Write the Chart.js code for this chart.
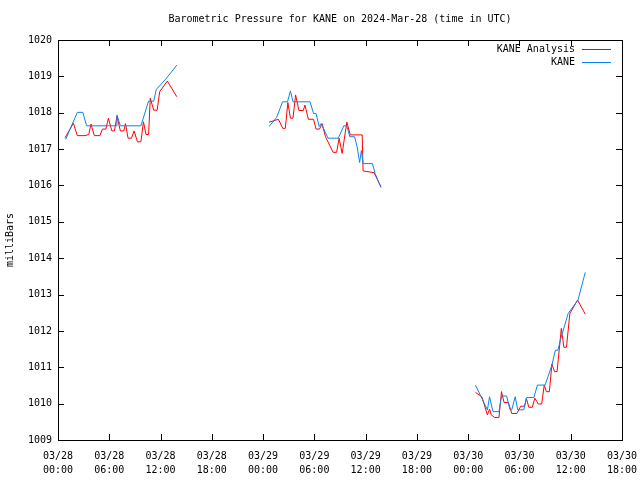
<!DOCTYPE html>
<html>
<head>
<meta charset="utf-8">
<script src="https://cdn.jsdelivr.net/npm/chart.js@4"></script>
<style>
  body { margin: 0; background: #fff; }
  #wrap { width: 640px; height: 480px; }
</style>
</head>
<body>
<div id="wrap"><canvas id="chartPressure" width="640" height="480"></canvas></div>
<script>
// hours since 03/28 00:00 UTC, null = gap
var analysisHours = [0.82, 1.8, 2.26, 3.16, 3.6, 3.86, 4.25, 4.9, 5.2, 5.6, 5.9, 6.3, 6.6, 6.9, 7.3, 7.7, 7.9, 8.2, 8.6, 8.9, 9.3, 9.7, 10.0, 10.3, 10.6, 10.8, 11.2, 11.6, 11.9, 12.8, 13.9,
    19,
    24.7, 25.8, 26.3, 26.6, 26.9, 27.2, 27.5, 27.8, 28.2, 28.7, 28.9, 29.3, 29.9, 30.2, 30.6, 30.9, 31.3, 32.2, 32.6, 32.9, 33.25, 33.8, 34.2, 35.6, 35.7, 37.0, 37.5, 37.8,
    43,
    48.85, 49.6, 50.25, 50.5, 50.7, 51.1, 51.6, 51.9, 52.2, 52.7, 53.1, 53.7, 54.15, 54.6, 54.8, 55.1, 55.5, 55.8, 56.2, 56.6, 56.9, 57.15, 57.5, 57.8, 58.1, 58.4, 58.9, 59.2, 59.5, 59.9, 60.8, 61.7];
var analysisValues = [1017.31, 1017.71, 1017.37, 1017.37, 1017.4, 1017.69, 1017.37, 1017.37, 1017.55, 1017.55, 1017.85, 1017.5, 1017.5, 1017.9, 1017.5, 1017.5, 1017.7, 1017.3, 1017.3, 1017.5, 1017.2, 1017.2, 1017.75, 1017.4, 1017.4, 1018.4, 1018.07, 1018.07, 1018.58, 1018.87, 1018.44,
    null,
    1017.74, 1017.82, 1017.57, 1017.57, 1018.28, 1017.85, 1017.85, 1018.49, 1018.06, 1018.06, 1018.21, 1017.82, 1017.82, 1017.55, 1017.55, 1017.7, 1017.34, 1016.91, 1016.91, 1017.3, 1016.88, 1017.74, 1017.39, 1017.39, 1016.4, 1016.35, 1016.1, 1015.95,
    null,
    1010.31, 1010.19, 1009.69, 1009.85, 1009.69, 1009.62, 1009.62, 1010.33, 1010.03, 1010.03, 1009.73, 1009.73, 1009.93, 1009.93, 1010.15, 1009.9, 1009.9, 1010.15, 1009.99, 1009.99, 1010.51, 1010.33, 1010.33, 1011.09, 1010.88, 1010.88, 1012.07, 1011.55, 1011.55, 1012.48, 1012.85, 1012.46];

var obsHours = [0.9, 2.26, 2.9, 3.35, 6.8, 6.9, 7.3, 9.7, 10.6, 11.2, 11.5, 12.7, 13.9,
    19,
    24.7, 25.58, 26.28, 26.86, 27.2, 27.5, 29.5, 29.9, 30.2, 30.56, 30.8, 31.6, 32.8, 33.45, 33.8, 34.15, 34.7, 35.0, 35.3, 35.5, 35.7, 36.8, 37.1, 37.8,
    43,
    48.85, 49.9, 50.25, 50.5, 50.9, 51.6, 51.9, 52.5, 52.9, 53.1, 53.5, 53.8, 54.5, 54.85, 55.7, 56.1, 57.0, 57.8, 58.2, 58.5, 58.9, 59.7, 60.85, 61.7];
var obsValues = [1017.27, 1018.01, 1018.01, 1017.64, 1017.64, 1017.94, 1017.64, 1017.64, 1018.32, 1018.32, 1018.64, 1018.95, 1019.31,
    null,
    1017.62, 1017.87, 1018.3, 1018.3, 1018.6, 1018.3, 1018.3, 1017.98, 1017.98, 1017.62, 1017.7, 1017.3, 1017.3, 1017.64, 1017.64, 1017.34, 1017.34, 1017.07, 1016.63, 1016.96, 1016.6, 1016.6, 1016.33, 1015.95,
    null,
    1010.51, 1010.0, 1009.83, 1010.19, 1009.78, 1009.78, 1010.21, 1010.21, 1009.83, 1009.83, 1010.19, 1009.83, 1009.83, 1010.17, 1010.17, 1010.51, 1010.51, 1011.06, 1011.47, 1011.47, 1011.84, 1012.48, 1012.85, 1013.61];

var xTickLabels = [['03/28', '00:00'], ['03/28', '06:00'], ['03/28', '12:00'], ['03/28', '18:00'],
    ['03/29', '00:00'], ['03/29', '06:00'], ['03/29', '12:00'], ['03/29', '18:00'],
    ['03/30', '00:00'], ['03/30', '06:00'], ['03/30', '12:00'], ['03/30', '18:00']];

var titleText = 'Barometric Pressure for KANE on 2024-Mar-28 (time in UTC)';
var yTitle = 'milliBars';
var seriesNames = ['KANE Analysis', 'KANE'];
var seriesColors = ['#ff0000', '#0a84f0'];

var FONT = '"DejaVu Sans Mono", "Liberation Mono", monospace';

function toPoints(xs, ys) {
    return xs.map(function (x, i) { return { x: x, y: ys[i] }; });
}

// gnuplot-like frame: inward ticks, title, y title, legend
var gnuFrame = {
    id: 'gnuFrame',
    afterDraw: function (chart) {
        var ctx = chart.ctx;
        var a = chart.chartArea;
        var xs = chart.scales.x, ys = chart.scales.y;
        ctx.save();
        ctx.strokeStyle = '#000';
        ctx.lineWidth = 1;
        ctx.beginPath();
        xs.ticks.forEach(function (t) {
            var px = Math.round(xs.getPixelForValue(t.value)) + 0.5;
            ctx.moveTo(px, a.bottom); ctx.lineTo(px, a.bottom - 6);
            ctx.moveTo(px, a.top); ctx.lineTo(px, a.top + 6);
        });
        ys.ticks.forEach(function (t) {
            var py = Math.round(ys.getPixelForValue(t.value)) + 0.5;
            ctx.moveTo(a.left, py); ctx.lineTo(a.left + 6, py);
            ctx.moveTo(a.right, py); ctx.lineTo(a.right - 6, py);
        });
        ctx.stroke();
        ctx.strokeRect(Math.round(a.left) + 0.5, Math.round(a.top) + 0.5,
            Math.round(a.right - a.left), Math.round(a.bottom - a.top));

        ctx.fillStyle = '#000';
        ctx.font = '10px ' + FONT;
        ctx.textAlign = 'center';
        ctx.textBaseline = 'middle';
        ctx.fillText(titleText, 340, 19);

        ctx.save();
        ctx.translate(10, 240);
        ctx.rotate(-Math.PI / 2);
        ctx.fillText(yTitle, 0, 0);
        ctx.restore();

        // legend
        ctx.textAlign = 'right';
        seriesNames.forEach(function (name, i) {
            var y = 49 + i * 13;
            ctx.fillStyle = '#000';
            ctx.fillText(name, 575, y);
            ctx.strokeStyle = seriesColors[i];
            ctx.beginPath();
            ctx.moveTo(582, y + 0.5);
            ctx.lineTo(611, y + 0.5);
            ctx.stroke();
        });
        ctx.restore();
    }
};

var ctx = document.getElementById('chartPressure').getContext('2d');
var chartPressure = new Chart(ctx, {
    type: 'line',
    data: {
        datasets: [{
            label: seriesNames[0],
            data: toPoints(analysisHours, analysisValues),
            borderColor: seriesColors[0],
            borderWidth: 1,
            pointRadius: 0,
            tension: 0,
            spanGaps: false,
            order: 2
        }, {
            label: seriesNames[1],
            data: toPoints(obsHours, obsValues),
            borderColor: seriesColors[1],
            borderWidth: 1,
            pointRadius: 0,
            tension: 0,
            spanGaps: false,
            order: 1
        }]
    },
    options: {
        responsive: false,
        animation: false,
        events: [],
        layout: { padding: { left: 0, right: 18, top: 40, bottom: 0 } },
        plugins: {
            legend: { display: false },
            title: { display: false },
            tooltip: { enabled: false }
        },
        scales: {
            x: {
                type: 'linear',
                min: 0,
                max: 66,
                border: { display: false },
                grid: { display: false, drawTicks: false },
                afterFit: function (s) { s.height = 40; s.paddingLeft = 0; s.paddingRight = 0; },
                ticks: {
                    stepSize: 6,
                    autoSkip: false,
                    maxRotation: 0,
                    padding: 9,
                    color: '#000',
                    font: { family: FONT, size: 10, lineHeight: 1.4 },
                    callback: function (v) { return xTickLabels[Math.round(v / 6)]; }
                }
            },
            y: {
                min: 1009,
                max: 1020,
                border: { display: false },
                grid: { display: false, drawTicks: false },
                afterFit: function (s) { s.width = 58; s.paddingTop = 0; s.paddingBottom = 0; },
                ticks: {
                    stepSize: 1,
                    padding: 6,
                    color: '#000',
                    font: { family: FONT, size: 10 },
                    callback: function (v) { return String(v); }
                }
            }
        }
    },
    plugins: [gnuFrame]
});
</script>
</body>
</html>
